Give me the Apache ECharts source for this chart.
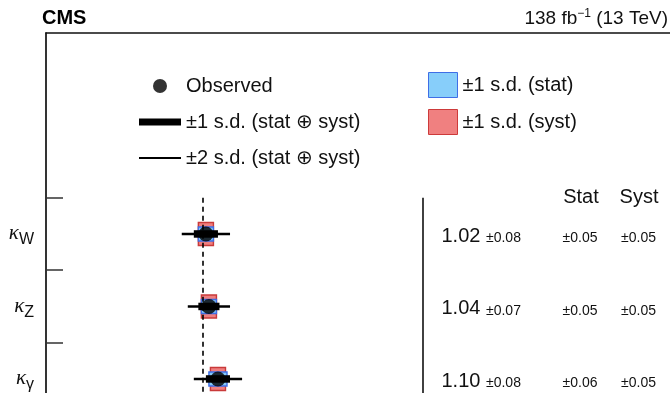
<!DOCTYPE html>
<html>
<head>
<meta charset="utf-8">
<script src="https://cdn.jsdelivr.net/npm/echarts@6/dist/echarts.min.js"></script>
<style>
  html, body { margin: 0; padding: 0; background: #fff; }
  #chart { width: 670px; height: 393px; }
</style>
</head>
<body>
<div id="chart"></div>
<script>
// Coupling modifiers (kappa) and their fitted values
const kappaNames = ['W', 'Z', 'γ'];
const bestFit = [1.02, 1.04, 1.10];
const totalErr = [0.08, 0.07, 0.08];
const statErr = [0.05, 0.05, 0.06];
const systErr = [0.05, 0.05, 0.05];

// Row separators on the parameter axis and table column headers
const rowTicks = [-0.5, 0.5, 1.5, 2.5];
const rowLabels = [0, 1, 2];
const tableHeads = ['Stat', 'Syst'];
const smReference = 1;
const tableEdge = 2.46;

const SANS = "'Liberation Sans', Arial, 'DejaVu Sans', sans-serif";
const SERIF = "'Liberation Serif', 'DejaVu Serif', serif";

const NAME_OBS = 'Observed';
const NAME_1SD = '±1 s.d. (stat ⊕ syst)';
const NAME_2SD = '±2 s.d. (stat ⊕ syst)';
const NAME_STAT = '±1 s.d. (stat)';
const NAME_SYST = '±1 s.d. (syst)';

const rows = bestFit.map((v, i) => [v, i, totalErr[i], statErr[i], systErr[i]]);

function boxItem(errDim, height, fill, stroke) {
  return function (params, api) {
    const v = api.value(0), r = api.value(1), e = api.value(errDim);
    const a = api.coord([v - e, r]);
    const b = api.coord([v + e, r]);
    return {
      type: 'rect',
      shape: { x: a[0], y: a[1] - height / 2, width: b[0] - a[0], height: height },
      style: { fill: fill, stroke: stroke, lineWidth: 1.4 }
    };
  };
}

function barItem(scale, width) {
  return function (params, api) {
    const v = api.value(0), r = api.value(1), e = api.value(2) * scale;
    const a = api.coord([v - e, r]);
    const b = api.coord([v + e, r]);
    return {
      type: 'line',
      shape: { x1: a[0], y1: a[1], x2: b[0], y2: b[1] },
      style: { stroke: '#000', lineWidth: width, lineCap: 'butt' }
    };
  };
}

function tableItem(params, api) {
  const r = api.value(1);
  const y = api.coord([0, r])[1];
  const children = [
    { type: 'text', x: 441.5, y: y + 2.3,
      style: { text: api.value(0).toFixed(2), fontSize: 20, fontFamily: SANS, fill: '#111', align: 'left', verticalAlign: 'middle' } },
    { type: 'text', x: 486, y: y + 4.2,
      style: { text: '±' + api.value(2).toFixed(2), fontSize: 14, fontFamily: SANS, fill: '#111', align: 'left', verticalAlign: 'middle' } },
    { type: 'text', x: 580, y: y + 4.2,
      style: { text: '±' + api.value(3).toFixed(2), fontSize: 14, fontFamily: SANS, fill: '#111', align: 'center', verticalAlign: 'middle' } },
    { type: 'text', x: 638.5, y: y + 4.2,
      style: { text: '±' + api.value(4).toFixed(2), fontSize: 14, fontFamily: SANS, fill: '#111', align: 'center', verticalAlign: 'middle' } }
  ];
  if (params.dataIndex === 0) {
    const hy = api.coord([0, rowTicks[0]])[1] - 0.5;
    children.push(
      { type: 'text', x: 581, y: hy, style: { text: tableHeads[0], fontSize: 20, fontFamily: SANS, fill: '#111', align: 'center', verticalAlign: 'middle' } },
      { type: 'text', x: 639, y: hy, style: { text: tableHeads[1], fontSize: 20, fontFamily: SANS, fill: '#111', align: 'center', verticalAlign: 'middle' } }
    );
  }
  return { type: 'group', children: children };
}

const chart = echarts.init(document.getElementById('chart'), null, { renderer: 'canvas' });

chart.setOption({
  animation: false,
  backgroundColor: '#fff',
  title: [
    { text: 'CMS', left: 42, top: 8, padding: 0,
      textStyle: { fontSize: 20, fontWeight: 'bold', fontFamily: SANS, color: '#000' } },
    { text: '138 fb{sup|−1} (13 TeV)', right: 2, top: 8, padding: 0,
      textStyle: { fontSize: 19, fontWeight: 'normal', fontFamily: SANS, color: '#111',
        rich: { sup: { fontSize: 12, fontFamily: SANS, color: '#111', padding: [0, 0, 9, 0] } } } }
  ],
  legend: [
    { orient: 'vertical', left: 139, top: 76, padding: 0, itemWidth: 42, itemHeight: 14, itemGap: 16, itemTextGap: 12,
      selectedMode: false, textStyle: { fontSize: 20, fontFamily: SANS, color: '#111' },
      data: [
        { name: NAME_OBS, icon: 'circle', itemStyle: { color: '#000', borderWidth: 0 } },
        { name: NAME_1SD, icon: 'path://M0,0H42V7H0Z', itemStyle: { color: '#000', borderWidth: 0 } },
        { name: NAME_2SD, icon: 'path://M0,0H42V2H0Z', itemStyle: { color: '#000', borderWidth: 0 } }
      ] },
    { orient: 'vertical', left: 428, top: 72, padding: 0, itemWidth: 29, itemHeight: 25, itemGap: 11, itemTextGap: 20,
      selectedMode: false, textStyle: { fontSize: 20, fontFamily: SANS, color: '#111' },
      data: [
        { name: NAME_STAT, icon: 'rect', itemStyle: { color: '#87cefa', borderColor: '#3f6ee6', borderWidth: 1 } },
        { name: NAME_SYST, icon: 'rect', itemStyle: { color: '#f08080', borderColor: '#cd3a3a', borderWidth: 1 } }
      ] }
  ],
  grid: { left: 46, top: 33, width: 629, height: 454.7, containLabel: false, outerBoundsMode: 'none' },
  xAxis: {
    type: 'value', min: -0.04, max: 4.13, position: 'top',
    axisLine: { show: true, onZero: false, lineStyle: { color: '#111', width: 1.6 } },
    axisTick: { show: false }, axisLabel: { show: false }, splitLine: { show: false }
  },
  yAxis: {
    type: 'value', inverse: true, min: -2.772, max: 3.5,
    axisLine: { show: true, onZero: false, lineStyle: { color: '#000', width: 1.6 } },
    axisTick: { show: true, inside: true, length: 17, customValues: rowTicks, lineStyle: { color: '#333', width: 1.5 } },
    splitLine: { show: false },
    axisLabel: {
      customValues: rowLabels, margin: 12,
      formatter: function (v) { return '{k|κ}{s|' + kappaNames[Math.round(v)] + '}'; },
      rich: {
        k: { fontSize: 21, fontFamily: SERIF, fontStyle: 'italic', color: '#111' },
        s: { fontSize: 16, fontFamily: SANS, color: '#111', padding: [12, 0, 0, 0] }
      }
    }
  },
  series: [
    { type: 'line', data: [], silent: true, z: 1,
      markLine: {
        silent: true, symbol: 'none', label: { show: false },
        data: [
          [{ coord: [smReference, rowTicks[0]], lineStyle: { type: [5, 4], width: 1.6, color: '#000' } },
           { coord: [smReference, rowTicks[rowTicks.length - 1]] }],
          [{ coord: [tableEdge, rowTicks[0]], lineStyle: { type: 'solid', width: 1.6, color: '#111' } },
           { coord: [tableEdge, rowTicks[rowTicks.length - 1]] }]
        ]
      } },
    { name: NAME_SYST, type: 'custom', z: 2, data: rows, encode: { x: 0, y: 1 },
      itemStyle: { color: '#f08080' }, renderItem: boxItem(4, 23, '#ef7f7f', '#c93a3a') },
    { name: NAME_STAT, type: 'custom', z: 3, data: rows, encode: { x: 0, y: 1 },
      itemStyle: { color: '#87cefa' }, renderItem: boxItem(3, 14, '#86c8f7', '#3f6ee6') },
    { name: NAME_2SD, type: 'custom', z: 4, data: rows, encode: { x: 0, y: 1 },
      itemStyle: { color: '#000' }, renderItem: barItem(2, 2.4) },
    { name: NAME_1SD, type: 'custom', z: 5, data: rows, encode: { x: 0, y: 1 },
      itemStyle: { color: '#000' }, renderItem: barItem(1, 7.5) },
    { name: NAME_OBS, type: 'scatter', z: 6, symbol: 'circle', symbolSize: 15,
      data: rows.map(r => [r[0], r[1]]), itemStyle: { color: '#000' } },
    { type: 'custom', z: 6, data: rows, encode: { x: 0, y: 1 }, silent: true, renderItem: tableItem }
  ]
});
</script>
</body>
</html>
